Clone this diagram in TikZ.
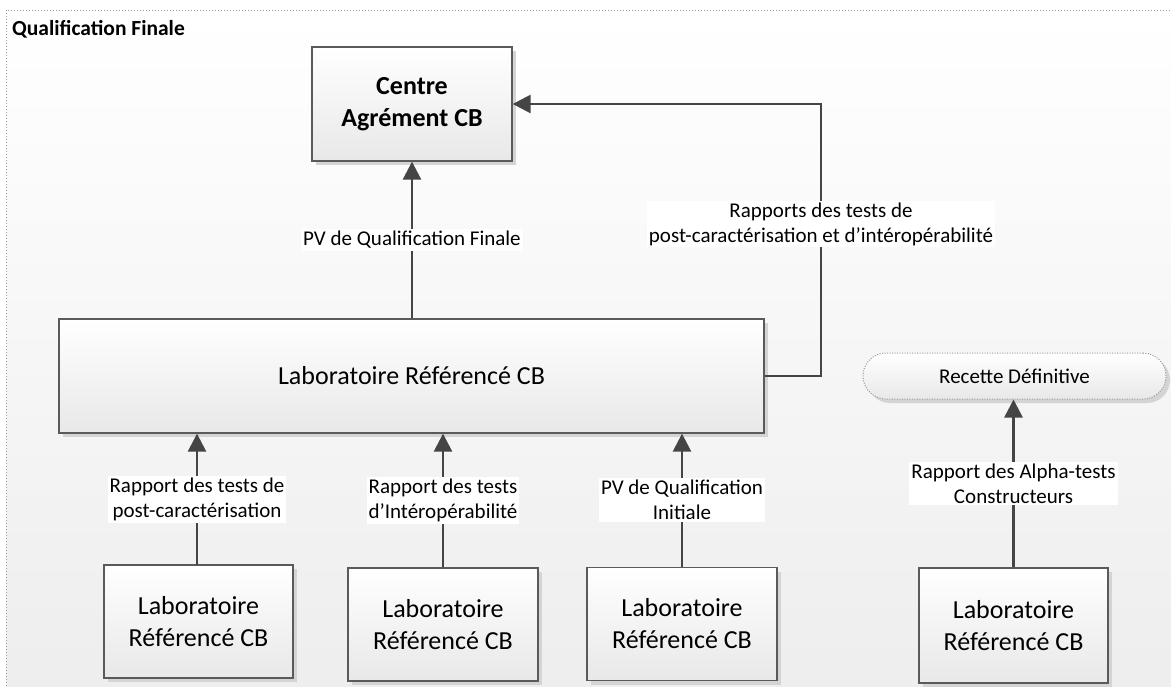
\documentclass[tikz,border=0pt]{standalone}
\usepackage{fontspec}
\setmainfont{Carlito}
\usetikzlibrary{arrows.meta,shadows}
\definecolor{bord}{HTML}{5A5A5A}
\definecolor{arrc}{HTML}{454545}
\definecolor{framec}{HTML}{9A9A9A}
\begin{document}
\begin{tikzpicture}[x=1pt,y=-1pt,
  box/.style={draw=bord, line width=1.3pt, shading=axis, top color=white, bottom color=black!9,
    drop shadow={shadow xshift=4pt, shadow yshift=-4pt, fill=black!17, opacity=1},
    align=center, inner sep=0pt, font=\fontsize{26}{32}\selectfont},
  lbl/.style={fill=white, align=center, inner sep=2pt, font=\fontsize{21}{25}\selectfont},
  arr/.style={draw=arrc, line width=2.6pt, -{Triangle[length=18pt,width=18pt]}},
]
\useasboundingbox (0,0) rectangle (1171,686);
\clip (0,0) rectangle (1171,686);
% frame
\path[shading=axis, top color=white, bottom color=black!7] (6,10) rectangle (1185,700);
\draw[framec, line width=1pt, dash pattern=on 1pt off 2pt] (6,10) rectangle (1185,700);
\node[anchor=base west, inner sep=0pt, font=\fontsize{21.5}{25}\selectfont\bfseries] (title) at (12,35) {Qualification Finale};

% nodes
\node[box, minimum width=200pt, minimum height=114pt, font=\fontsize{26}{32}\selectfont\bfseries] (centre) at (412,104) {Centre\\Agrément CB};
\node[box, minimum width=705pt, minimum height=114pt] (big) at (411.5,376) {Laboratoire Référencé CB};
\node[box, minimum width=189pt, minimum height=113pt] (b1) at (198.5,621.5) {Laboratoire\\Référencé CB};
\node[box, minimum width=190pt, minimum height=113pt] (b2) at (443,624.5) {Laboratoire\\Référencé CB};
\node[box, minimum width=190pt, minimum height=113pt] (b3) at (682,624) {Laboratoire\\Référencé CB};
\node[box, minimum width=189pt, minimum height=115pt] (b4) at (1013.5,625.5) {Laboratoire\\Référencé CB};
\node[box, draw=framec, line width=1pt, dash pattern=on 1pt off 1.5pt, rounded corners=23pt,
  minimum width=303pt, minimum height=46pt, font=\fontsize{21}{25}\selectfont] (rec) at (1014.5,376) {Recette Définitive};

\coordinate (rt) at (821,104);

% connectors
\draw[arr] (big.north -| centre.south) -- (centre.south)
  node[lbl, pos=0.5] (l0) {PV de Qualification Finale};
\draw[arr] (big.east) -| (rt) -- (centre.east);
\node[lbl] (l5) at (821,224) {Rapports des tests de\\post-caractérisation et d’intéropérabilité};
\draw[arr] (197,565) coordinate (s1) -- (s1 |- big.south)
  node[lbl, pos=0.5] (l1) {Rapport des tests de\\post-caractérisation};
\draw[arr] (b2.north) -- (b2.north |- big.south)
  node[lbl, pos=0.5] (l2) {Rapport des tests\\d’Intéropérabilité};
\draw[arr] (b3.north) -- (b3.north |- big.south)
  node[lbl, pos=0.5] (l3) {PV de Qualification\\Initiale};
\draw[arr] (b4.north) -- (b4.north |- rec.south)
  node[lbl, pos=0.5] (l4) {Rapport des Alpha-tests\\Constructeurs};
\end{tikzpicture}
\end{document}
